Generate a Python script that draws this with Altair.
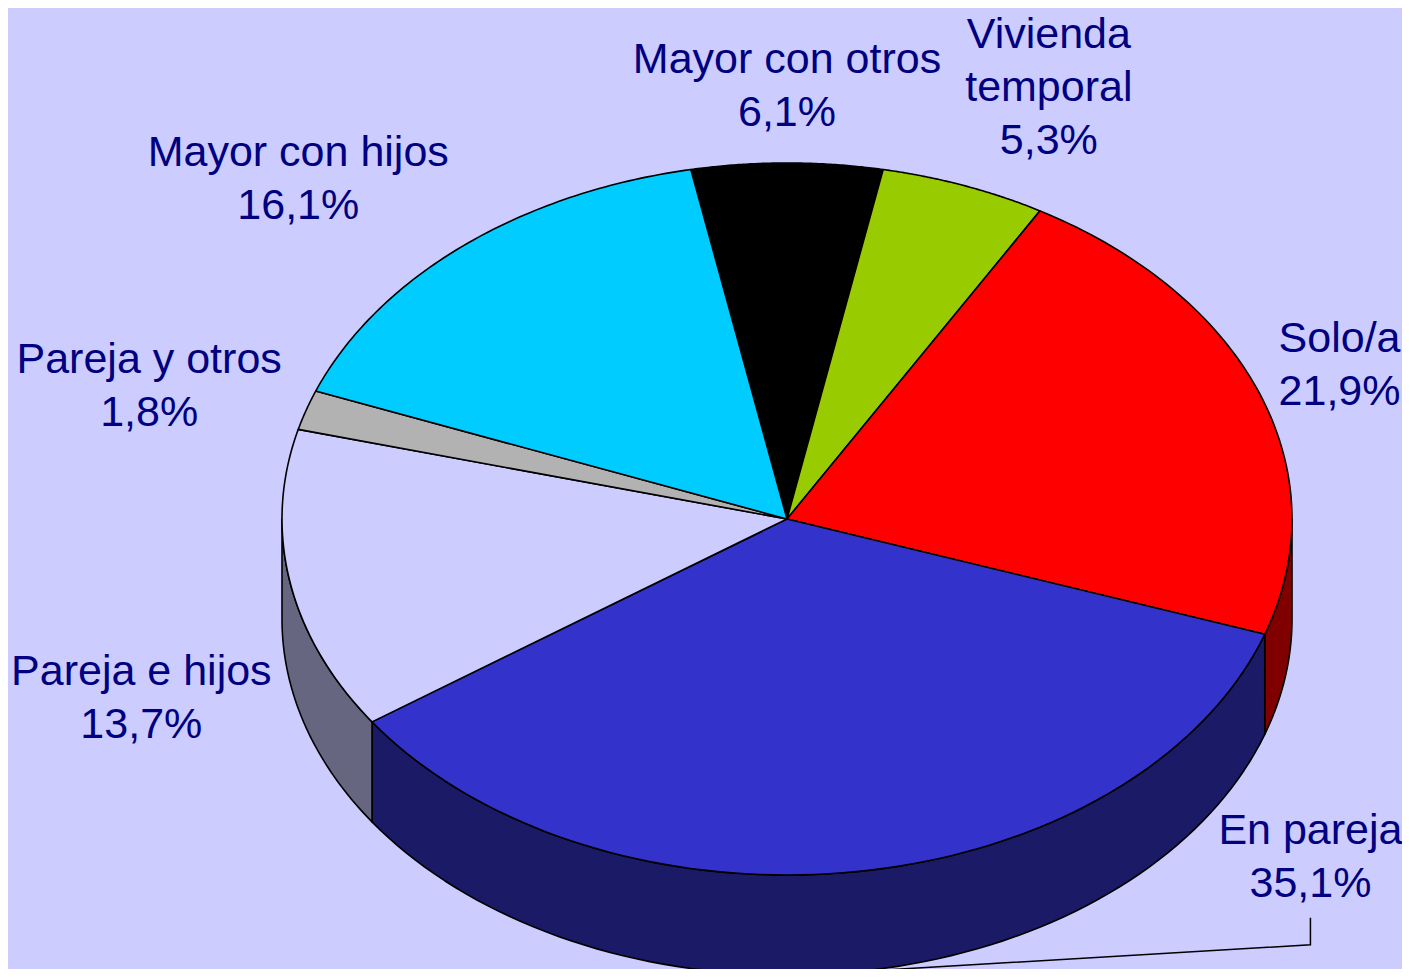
import altair as alt
import pandas as pd

# ---- data -------------------------------------------------------------
labels = ["Mayor con otros", "Vivienda\ntemporal", "Solo/a", "En pareja",
          "Pareja e hijos", "Pareja y otros", "Mayor con hijos"]
values = [6.1, 5.3, 21.9, 35.1, 13.7, 1.8, 16.1]
top_colors = ["#000000", "#99CC00", "#FF0000", "#3333CC",
              "#CCCCFF", "#B2B2B2", "#00CCFF"]
side_colors = ["#000000", "#4D6600", "#800000", "#1A1A66",
               "#666680", "#595959", "#006680"]

# ---- layout (not data) ------------------------------------------------
W, H = 1394, 961
CX, CY = 779, 511          # centre of the top ellipse
RA, RB = 505, 356          # radii of the top ellipse
DEPTH = 100                # thickness of the 3-D pie
ROT = -values[0] / 2 * 3.6 # first slice centred at the top
K = 80                     # points per arc
LA, LB = 530, 385          # label ellipse
FS, LH = 43, 53
label_nudge = {"Mayor con otros": (0, 5), "Vivienda\ntemporal": (48, 4),
               "En pareja": (438, -195), "Mayor con hijos": (-52, -4),
               "Pareja e hijos": (14, 3), "Pareja y otros": (0, 2)}
leader = {"En pareja"}

df = pd.DataFrame({
    "label": labels,
    "value": values,
    "top": top_colors,
    "side": side_colors,
    "ord": list(range(len(labels))),
})
df["txt"] = [l + "\n" + f"{v:.1f}".replace(".", ",") + "%" for l, v in zip(labels, values)]
df["w"] = [max(len(s) for s in l.split("\n")) * 20 for l in labels]
df["nl"] = [l.count("\n") + 2 for l in labels]
df["h"] = df["nl"] * LH
df["ndx"] = [label_nudge.get(l, (0, 0))[0] for l in labels]
df["ndy"] = [label_nudge.get(l, (0, 0))[1] for l in labels]
df["lead"] = [l in leader for l in labels]

xs = alt.Scale(domain=[0, W], nice=False, zero=False)
ys = alt.Scale(domain=[0, H], reverse=True, nice=False, zero=False)
X = alt.X("x:Q", scale=xs, axis=None)
Y = alt.Y("y:Q", scale=ys, axis=None)

base = (
    alt.Chart(df)
    .transform_window(cum="sum(value)", sort=[alt.SortField("ord")], frame=[None, 0])
    .transform_calculate(t0=f"{ROT} + (datum.cum - datum.value) * 3.6")
    .transform_calculate(t1=f"{ROT} + datum.cum * 3.6")
)

# side walls (front half only)
walls = (
    base.transform_calculate(w0="max(datum.t0, 90)")
    .transform_calculate(w1="min(datum.t1, 270)")
    .transform_filter("datum.w1 > datum.w0")
    .transform_calculate(seq=f"sequence(0, {2 * K + 3})")
    .transform_flatten(["seq"], as_=["i"])
    .transform_calculate(j=f"datum.i <= {K} ? datum.i : (datum.i <= {2 * K + 1} ? {2 * K + 1} - datum.i : 0)")
    .transform_calculate(low=f"datum.i > {K} && datum.i <= {2 * K + 1}")
    .transform_calculate(th=f"(datum.w0 + (datum.w1 - datum.w0) * datum.j / {K}) * PI / 180")
    .transform_calculate(x=f"{CX} + {RA} * sin(datum.th)")
    .transform_calculate(y=f"{CY} - {RB} * cos(datum.th) + (datum.low ? {DEPTH} : 0)")
    .mark_line(stroke="black", strokeWidth=1.6, strokeJoin="round")
    .encode(x=X, y=Y, order="i:Q", detail="label:N",
            fill=alt.Fill("side:N", scale=None))
)

# top faces
tops = (
    base.transform_calculate(seq=f"sequence(0, {K + 3})")
    .transform_flatten(["seq"], as_=["i"])
    .transform_calculate(ctr=f"datum.i == 0 || datum.i == {K + 2}")
    .transform_calculate(th=f"(datum.t0 + (datum.t1 - datum.t0) * (datum.i - 1) / {K}) * PI / 180")
    .transform_calculate(x=f"datum.ctr ? {CX} : {CX} + {RA} * sin(datum.th)")
    .transform_calculate(y=f"datum.ctr ? {CY} : {CY} - {RB} * cos(datum.th)")
    .mark_line(stroke="black", strokeWidth=1.6, strokeJoin="round")
    .encode(x=X, y=Y, order="i:Q", detail="label:N",
            fill=alt.Fill("top:N", scale=None))
)

lab_base = (
    base.transform_calculate(tm="(datum.t0 + datum.t1) / 2 * PI / 180")
    .transform_calculate(px=f"{CX} + {LA} * sin(datum.tm)")
    .transform_calculate(py=f"{CY} - {LB} * cos(datum.tm) + (cos(datum.tm) < 0 ? {DEPTH} : 0)")
    .transform_calculate(lx="datum.px + sin(datum.tm) * datum.w / 2 + datum.ndx")
    .transform_calculate(ly="datum.py - cos(datum.tm) * datum.h / 2 + datum.ndy")
)

texts = (
    lab_base.transform_calculate(x="datum.lx", y=f"datum.ly - (datum.nl - 1) * {LH} / 2")
    .mark_text(font="Liberation Sans", fontSize=FS, lineHeight=LH, color="#000080",
               lineBreak="\n", align="center", baseline="middle")
    .encode(x=X, y=Y, text="txt:N")
)

leaders = (
    lab_base.transform_filter("datum.lead")
    .transform_calculate(seq="sequence(0, 3)")
    .transform_flatten(["seq"], as_=["i"])
    .transform_calculate(
        x=f"datum.i < 2 ? datum.lx : {CX} + {RA} * sin(datum.tm)")
    .transform_calculate(
        y=f"datum.i == 0 ? datum.ly + datum.h / 2 + 7 : (datum.i == 1 ? datum.ly + datum.h / 2 + 34 : {CY} - {RB} * cos(datum.tm) + {DEPTH})")
    .mark_line(color="black", strokeWidth=1.5)
    .encode(x=X, y=Y, order="i:Q", detail="label:N")
)

chart = (
    alt.layer(walls, tops, leaders, texts)
    .properties(width=W, height=H, background="#CCCCFF", padding=0,
                autosize=alt.AutoSizeParams(type="none"))
    .configure_view(stroke=None)
)

chart.save("out.html", embed_options={"renderer": "svg", "actions": False})
